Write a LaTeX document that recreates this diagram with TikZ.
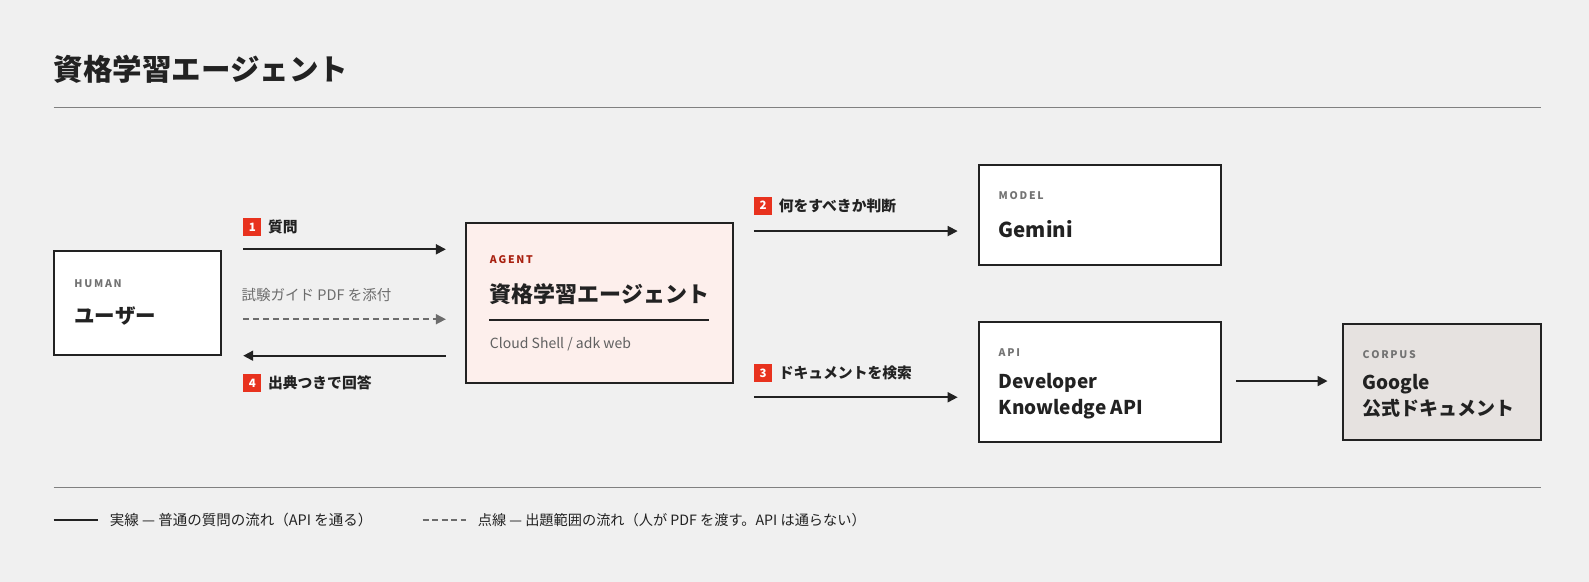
\documentclass[tikz,border=0pt]{standalone}
\usepackage{fontspec}
\setmainfont{Noto Sans CJK JP}
\usetikzlibrary{arrows.meta}
\definecolor{bg}{HTML}{F0F0F0}
\definecolor{ink}{HTML}{222222}
\definecolor{badge}{HTML}{E8321E}
\definecolor{agentfill}{HTML}{FDEFEC}
\definecolor{corpusfill}{HTML}{E6E2E0}
\definecolor{agentred}{HTML}{A8200F}
\begin{document}
\begin{tikzpicture}[x=1.0134pt,y=-1.0134pt,
  box/.style={draw=ink,line width=2pt,fill=white},
  tag/.style={anchor=west,font=\fontsize{10.5}{11}\selectfont\bfseries,text=gray!90!black},
  big/.style={anchor=west,font=\fontsize{20.5}{27}\selectfont\bfseries,text=ink,align=left},
  arr/.style={draw=ink,line width=1.8pt,-{Triangle[length=10pt,width=10pt]}},
  lbl/.style={anchor=west,font=\fontsize{14.8}{16}\selectfont\bfseries,text=ink},
  bd/.style={fill=badge,text=white,font=\fontsize{11.5}{12}\selectfont\bfseries,minimum size=18pt,inner sep=0pt}]
\fill[bg] (0,0) rectangle (1568,574);
\useasboundingbox (0,0) rectangle (1568,574);
\node[anchor=west,font=\fontsize{29.5}{32}\selectfont\bfseries,text=ink,inner sep=0pt] (title) at (53,68) {資格学習エージェント};
\draw[gray,line width=1.5pt] (53,106) coordinate (t1) -- (1521,106) coordinate (t2);
% user
\draw[box] (53,248) rectangle (218,350);
\node[tag] (hum) at (70,280) {H\,U\,M\,A\,N};
\node[big] (user) at (70,312) {ユーザー};
% agent
\draw[box,fill=agentfill] (460,220) rectangle (723,378);
\node[tag,text=agentred] (ag) at (480,256) {A\,G\,E\,N\,T};
\node[big,font=\fontsize{22}{26}\selectfont\bfseries] (agt) at (480,290) {資格学習エージェント};
\draw[ink,line width=1.8pt] (483,316) -- (700,316);
\node[anchor=west,font=\fontsize{14}{16}\selectfont,text=gray!75!black] (cs) at (480,340) {Cloud Shell / adk web};
% arrows left
\coordinate (a1s) at (240,246); \coordinate (a1e) at (440,246);
\draw[arr] (a1s) -- (a1e);
\node[bd] (b1) at (249,224) {1}; \node[lbl] (l1) at (261,224) {質問};
\coordinate (a0s) at (240,315); \coordinate (a0e) at (440,315);
\draw[arr,draw=gray!85!black,dash pattern=on 6pt off 4pt,line width=1.6pt] (a0s) -- (a0e);
\node[anchor=west,font=\fontsize{14.5}{16}\selectfont,text=gray!85!black] (l0) at (235,291) {試験ガイド PDF を添付};
\coordinate (a4s) at (440,351); \coordinate (a4e) at (240,351);
\draw[arr] (a4s) -- (a4e);
\node[bd] (b4) at (249,378) {4}; \node[lbl] (l4) at (261,378) {出典つきで回答};
% model
\draw[box] (966,163) rectangle (1205,261);
\node[tag] (mt) at (982,193) {M\,O\,D\,E\,L};
\node[big] (gem) at (982,226) {Gemini};
\coordinate (a2s) at (744,228); \coordinate (a2e) at (945,228);
\draw[arr] (a2s) -- (a2e);
\node[bd] (b2) at (753,203) {2}; \node[lbl] (l2) at (765,203) {何をすべきか判断};
% api
\draw[box] (966,318) rectangle (1205,436);
\node[tag] (apt) at (982,348) {A\,P\,I};
\node[big,font=\fontsize{19}{26}\selectfont\bfseries] (dev) at (982,391) {Developer\\Knowledge API};
\coordinate (a3s) at (744,392); \coordinate (a3e) at (945,392);
\draw[arr] (a3s) -- (a3e);
\node[bd] (b3) at (753,368) {3}; \node[lbl] (l3) at (765,368) {ドキュメントを検索};
% corpus
\draw[box,fill=corpusfill] (1325,320) rectangle (1521,434);
\node[tag] (cpt) at (1341,350) {C\,O\,R\,P\,U\,S};
\node[big,font=\fontsize{19}{26}\selectfont\bfseries] (goo) at (1341,391) {Google\\公式ドキュメント};
\coordinate (a5s) at (1220,376); \coordinate (a5e) at (1310,376);
\draw[arr] (a5s) -- (a5e);
% legend
\draw[gray,line width=1.5pt] (53,481) -- (1521,481);
\draw[ink,line width=2pt] (53,513) coordinate (s1) -- (97,513) coordinate (s2);
\node[anchor=west,font=\fontsize{14.5}{16}\selectfont,text=ink] (lg1) at (105,513) {実線 — 普通の質問の流れ（API を通る）};
\draw[gray!85!black,line width=1.5pt,dash pattern=on 6pt off 3.5pt] (417,513) coordinate (s3) -- (460,513) coordinate (s4);
\node[anchor=west,font=\fontsize{14.2}{16}\selectfont,text=ink] (lg2) at (468,513) {点線 — 出題範囲の流れ（人が PDF を渡す。API は通らない）};
\end{tikzpicture}
\end{document}
